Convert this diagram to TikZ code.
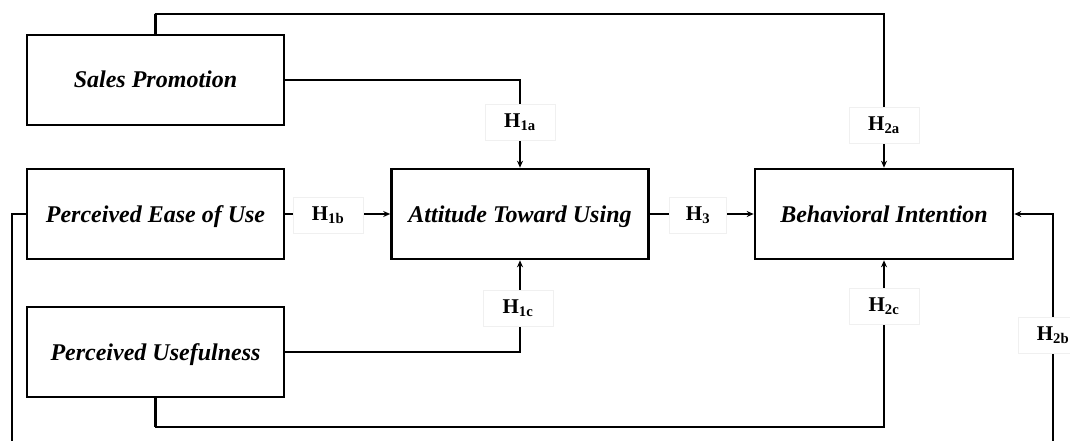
\documentclass[tikz,border=0pt]{standalone}
\usepackage{fontspec}
\setmainfont{Liberation Serif}
\usetikzlibrary{arrows.meta}
\begin{document}
\begin{tikzpicture}[x=1pt,y=-1pt,
  box/.style={draw,line width=2.6pt,minimum width=257pt,minimum height=90pt,inner sep=0pt,
    text height=21pt,text depth=5pt,
    font=\fontsize{24}{28}\selectfont\bfseries\itshape},
  link/.style={line width=2.2pt},
  arr/.style={link,-{Stealth[length=7pt,width=6pt]}},
  hyp/.style={fill=white,draw=black!6,line width=0.6pt,minimum width=70pt,minimum height=36pt,inner sep=0pt,
    font=\fontsize{21}{24}\selectfont\bfseries}]
\useasboundingbox (0,0) rectangle (1070,441);
\clip (0,0) rectangle (1070,441);
\fill[white] (0,0) rectangle (1070,441);

% boxes
\node[box] (SP)   at (155.5,80)  {Sales Promotion};
\node[box] (PEOU) at (155.5,214) {Perceived Ease of Use};
\node[box] (PU)   at (155.5,352) {Perceived Usefulness};
\node[box] (ATU) at (520,214) {Attitude Toward Using};
\node[box,minimum width=258pt] (BI)  at (884,214) {Behavioral Intention};

% bend points
\coordinate (top) at (155,14);
\coordinate (lft) at (12,214);
\coordinate (lbot) at (12,470);
\coordinate (rbot) at (1053,470);
\coordinate (rgt) at (1053,214);
\coordinate (bot) at (155,427);

% connectors
\draw[arr] (SP.east) -| (ATU.north);
\draw[arr] (SP.north) |- (top) -| (BI.north);
\draw[arr] (PEOU.east) -- (ATU.west);
\draw[arr] (PU.east) -| (ATU.south);
\draw[arr] (ATU.east) -- (BI.west);
\draw[arr] (PU.south) |- (bot) -| (BI.south);
\draw[arr] (PEOU.west) -- (lft) -- (lbot) -- (rbot) -- (rgt) -- (BI.east);

% hypothesis labels
\node[hyp] (h1a) at (520,122) {H\textsubscript{1a}};
\node[hyp] (h2a) at (884,125) {H\textsubscript{2a}};
\node[hyp] (h1b) at (328,215) {H\textsubscript{1b}};
\node[hyp,minimum width=57pt] (h3)  at (698,215) {H\textsubscript{3}};
\node[hyp] (h1c) at (518,308) {H\textsubscript{1c}};
\node[hyp] (h2c) at (884,306) {H\textsubscript{2c}};
\node[hyp] (h2b) at (1053,335) {H\textsubscript{2b}};
\end{tikzpicture}
\end{document}
